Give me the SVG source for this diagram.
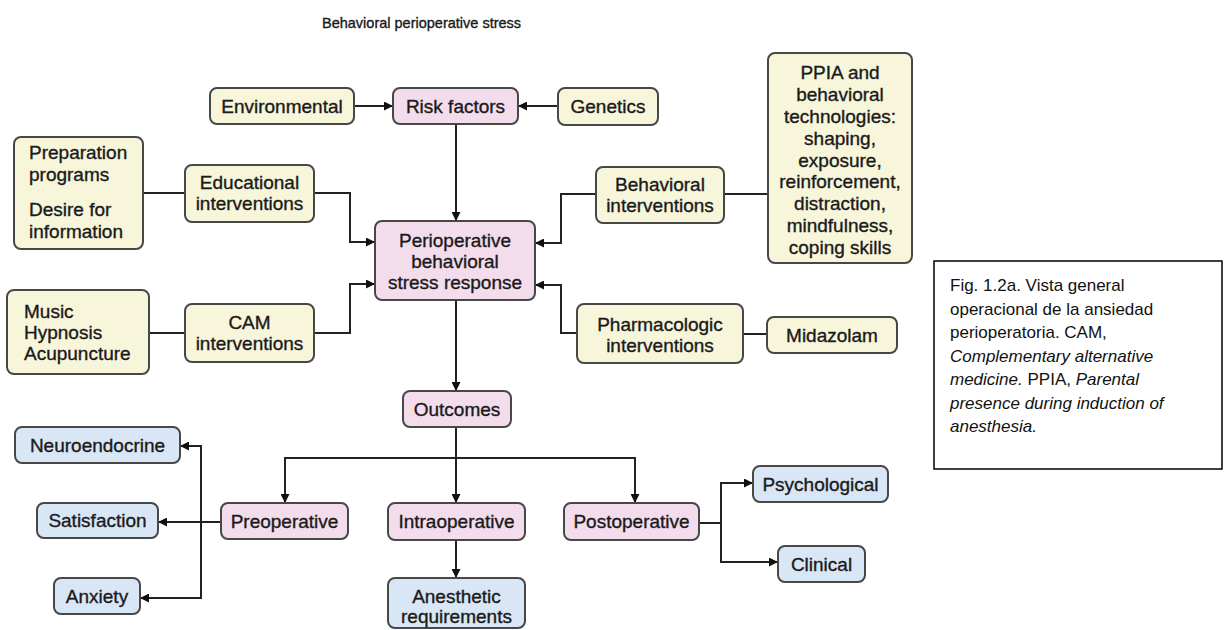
<svg xmlns="http://www.w3.org/2000/svg" width="1226" height="630" viewBox="0 0 1226 630">
<style>
  .box rect { stroke:#474747; stroke-width:2; }
  .y rect { fill:#f7f5da; }
  .p rect { fill:#f3dcec; }
  .b rect { fill:#d9e6f5; }
  .box text { font-family:"Liberation Sans", Arial, sans-serif; font-size:19px; fill:#1a1a1a; stroke:#1a1a1a; stroke-width:0.35; text-anchor:middle; }
  .box text.l { text-anchor:start; }
  .conn path { fill:none; stroke:#222; stroke-width:2; }
  .title { font-family:"Liberation Sans", Arial, sans-serif; font-size:14.5px; fill:#1a1a1a; stroke:#1a1a1a; stroke-width:0.35; }
  .cap { font-family:"Liberation Sans", Arial, sans-serif; font-size:17px; fill:#111; }
  .i { font-style:italic; }
</style>
<defs>
  <marker id="ah" viewBox="0 0 10 10" refX="10" refY="5" markerWidth="11" markerHeight="9" markerUnits="userSpaceOnUse" orient="auto">
    <path d="M0,0 L10,5 L0,10 z" fill="#111"/>
  </marker>
</defs>
<rect width="1226" height="630" fill="#fff"/>
<text class="title" x="322" y="28">Behavioral perioperative stress</text>

<g class="conn">
  <path d="M354,106 H393" marker-end="url(#ah)"/>
  <path d="M558,106 H518" marker-end="url(#ah)"/>
  <path d="M456,124 V221" marker-end="url(#ah)"/>
  <path d="M596,194 H561 V243 H535" marker-end="url(#ah)"/>
  <path d="M768,194 H724"/>
  <path d="M314,193 H350 V242 H375" marker-end="url(#ah)"/>
  <path d="M143,193 H185"/>
  <path d="M149,333 H185"/>
  <path d="M314,333 H350 V284 H375" marker-end="url(#ah)"/>
  <path d="M577,333 H561 V285 H535" marker-end="url(#ah)"/>
  <path d="M743,334 H767"/>
  <path d="M456,300 V391" marker-end="url(#ah)"/>
  <path d="M456,427 V503" marker-end="url(#ah)"/>
  <path d="M456,458 H285 V503" marker-end="url(#ah)"/>
  <path d="M456,458 H635 V503" marker-end="url(#ah)"/>
  <path d="M456,540 V578" marker-end="url(#ah)"/>
  <path d="M699,523 H721"/>
  <path d="M721,523 V483 H753" marker-end="url(#ah)"/>
  <path d="M721,523 V562 H778" marker-end="url(#ah)"/>
  <path d="M221,522 H158" marker-end="url(#ah)"/>
  <path d="M201,522 V446 H180" marker-end="url(#ah)"/>
  <path d="M201,522 V598 H140" marker-end="url(#ah)"/>
</g>

<g id="environmental" class="box y"><rect x="210" y="88" width="144" height="36" rx="7"/><text x="282" y="113">Environmental</text></g>
<g id="risk-factors" class="box p"><rect x="393" y="88" width="125" height="36" rx="7"/><text x="455.5" y="113">Risk factors</text></g>
<g id="genetics" class="box y"><rect x="558" y="88" width="100" height="37" rx="7"/><text x="608" y="113">Genetics</text></g>
<g id="ppia" class="box y"><rect x="768" y="53" width="144" height="210" rx="7"/>
  <text x="840" y="79">PPIA and</text>
  <text x="840" y="101">behavioral</text>
  <text x="840" y="123">technologies:</text>
  <text x="840" y="145">shaping,</text>
  <text x="840" y="166.5">exposure,</text>
  <text x="840" y="188">reinforcement,</text>
  <text x="840" y="210">distraction,</text>
  <text x="840" y="232">mindfulness,</text>
  <text x="840" y="254">coping skills</text>
</g>
<g id="preparation" class="box y"><rect x="14" y="137" width="129" height="112" rx="7"/>
  <text class="l" x="29" y="159">Preparation</text>
  <text class="l" x="29" y="181">programs</text>
  <text class="l" x="29" y="216">Desire for</text>
  <text class="l" x="29" y="238">information</text>
</g>
<g id="educational" class="box y"><rect x="185" y="165" width="129" height="57" rx="7"/>
  <text x="249.5" y="189">Educational</text>
  <text x="249.5" y="210">interventions</text>
</g>
<g id="behavioral" class="box y"><rect x="596" y="167" width="128" height="56" rx="7"/>
  <text x="660" y="191">Behavioral</text>
  <text x="660" y="212">interventions</text>
</g>
<g id="stress-response" class="box p"><rect x="375" y="221" width="160" height="79" rx="7"/>
  <text x="455" y="247">Perioperative</text>
  <text x="455" y="268">behavioral</text>
  <text x="455" y="289">stress response</text>
</g>
<g id="music" class="box y"><rect x="7" y="290" width="142" height="84" rx="7"/>
  <text class="l" x="24" y="318">Music</text>
  <text class="l" x="24" y="339">Hypnosis</text>
  <text class="l" x="24" y="360">Acupuncture</text>
</g>
<g id="cam" class="box y"><rect x="185" y="304" width="129" height="58" rx="7"/>
  <text x="249.5" y="329">CAM</text>
  <text x="249.5" y="350">interventions</text>
</g>
<g id="pharmacologic" class="box y"><rect x="577" y="304" width="166" height="59" rx="7"/>
  <text x="660" y="331">Pharmacologic</text>
  <text x="660" y="352">interventions</text>
</g>
<g id="midazolam" class="box y"><rect x="767" y="317" width="130" height="36" rx="7"/><text x="832" y="342">Midazolam</text></g>
<g id="outcomes" class="box p"><rect x="403" y="391" width="108" height="36" rx="7"/><text x="457" y="416">Outcomes</text></g>
<g id="preoperative" class="box p"><rect x="221" y="503" width="127" height="36" rx="7"/><text x="284.5" y="528">Preoperative</text></g>
<g id="intraoperative" class="box p"><rect x="388" y="503" width="137" height="37" rx="7"/><text x="456.5" y="528">Intraoperative</text></g>
<g id="postoperative" class="box p"><rect x="564" y="503" width="135" height="37" rx="7"/><text x="631.5" y="528">Postoperative</text></g>
<g id="anesthetic" class="box b"><rect x="388" y="578" width="137" height="50" rx="7"/>
  <text x="456.5" y="603">Anesthetic</text>
  <text x="456.5" y="623">requirements</text>
</g>
<g id="psychological" class="box b"><rect x="753" y="466" width="135" height="36" rx="7"/><text x="820.5" y="491">Psychological</text></g>
<g id="clinical" class="box b"><rect x="778" y="546" width="87" height="36" rx="7"/><text x="821.5" y="571">Clinical</text></g>
<g id="neuroendocrine" class="box b"><rect x="15" y="427" width="165" height="36" rx="7"/><text x="97.5" y="452">Neuroendocrine</text></g>
<g id="satisfaction" class="box b"><rect x="37" y="503" width="121" height="35" rx="7"/><text x="97.5" y="527">Satisfaction</text></g>
<g id="anxiety" class="box b"><rect x="54" y="578" width="86" height="36" rx="7"/><text x="97" y="603">Anxiety</text></g>

<g id="caption">
  <rect x="934" y="261" width="288" height="208" fill="#fff" stroke="#000" stroke-width="1.5"/>
  <text class="cap" x="950" y="291">Fig. 1.2a. Vista general</text>
  <text class="cap" x="950" y="314.5">operacional de la ansiedad</text>
  <text class="cap" x="950" y="338">perioperatoria. CAM,</text>
  <text class="cap i" x="950" y="361.5">Complementary alternative</text>
  <text class="cap" x="950" y="385"><tspan class="i">medicine.</tspan> PPIA, <tspan class="i">Parental</tspan></text>
  <text class="cap i" x="950" y="408.5">presence during induction of</text>
  <text class="cap i" x="950" y="432">anesthesia.</text>
</g>
</svg>
